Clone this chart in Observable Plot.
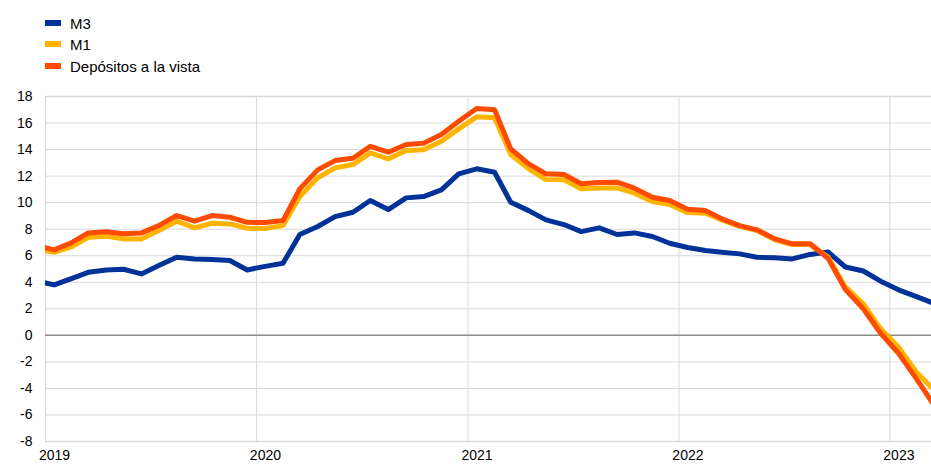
<!DOCTYPE html>
<html><head><meta charset="utf-8">
<script src="https://cdn.jsdelivr.net/npm/d3@7"></script>
<script src="https://cdn.jsdelivr.net/npm/@observablehq/plot@0.6"></script>
<style>
body{margin:0;background:#fff;font-family:Arial,"Liberation Sans",sans-serif;}
#legend{position:relative;height:80px;width:931px;}
.item{position:absolute;left:45px;height:20px;display:flex;align-items:center;font-size:15px;color:#000;white-space:nowrap;}
.sw{width:16px;height:6px;margin-right:9px;}
#chart svg{display:block;}
</style></head><body>
<div id="legend"></div><div id="chart"></div>
<script>
const months = ["2018-12",
"2019-01","2019-02","2019-03","2019-04","2019-05","2019-06","2019-07","2019-08","2019-09","2019-10","2019-11","2019-12",
"2020-01","2020-02","2020-03","2020-04","2020-05","2020-06","2020-07","2020-08","2020-09","2020-10","2020-11","2020-12",
"2021-01","2021-02","2021-03","2021-04","2021-05","2021-06","2021-07","2021-08","2021-09","2021-10","2021-11","2021-12",
"2022-01","2022-02","2022-03","2022-04","2022-05","2022-06","2022-07","2022-08","2022-09","2022-10","2022-11","2022-12",
"2023-01","2023-02","2023-03"];
const m3 = [4.1,
3.8,4.3,4.75,4.93,4.98,4.63,5.26,5.89,5.76,5.71,5.64,4.93,
5.2,5.43,7.6,8.2,8.95,9.28,10.16,9.48,10.36,10.46,10.96,12.17,
12.55,12.29,10.03,9.4,8.7,8.35,7.82,8.1,7.6,7.72,7.45,6.94,
6.62,6.39,6.26,6.14,5.89,5.84,5.76,6.1,6.28,5.15,4.85,4.08,
3.43,2.92,2.45];
const m1 = [6.5,
6.26,6.69,7.39,7.47,7.27,7.27,7.9,8.6,8.1,8.45,8.4,8.07,
8.05,8.27,10.46,11.87,12.62,12.87,13.75,13.3,13.93,13.98,14.63,15.56,
16.47,16.4,13.62,12.55,11.74,11.72,11.04,11.11,11.11,10.71,10.08,9.86,
9.25,9.2,8.7,8.22,7.9,7.2,6.84,6.84,5.9,3.65,2.37,0.49,
-0.9,-2.78,-4.0];
const depositos = [6.77,
6.44,7.0,7.72,7.8,7.65,7.72,8.27,9.03,8.6,9.03,8.9,8.52,
8.5,8.65,11.04,12.47,13.17,13.35,14.25,13.8,14.38,14.48,15.13,16.13,
17.1,17.0,14.05,12.92,12.17,12.12,11.42,11.51,11.54,11.09,10.41,10.16,
9.5,9.4,8.78,8.27,7.95,7.27,6.9,6.9,5.8,3.45,2.0,0.16,
-1.35,-3.28,-5.1];
const seriesNames = ["M3","M1","Depósitos a la vista"];
const seriesColors = ["#003299","#FFB400","#FF4B00"];
const yTicks = [-8,-6,-4,-2,0,2,4,6,8,10,12,14,16,18];
const xTickYears = [2019,2020,2021,2022,2023];

// legend
const legend = document.getElementById("legend");
const tops = [13,34,56];
seriesNames.forEach((n,k)=>{
  const d = document.createElement("div");
  d.className = "item";
  d.style.top = tops[k] + "px";
  const sw = document.createElement("span");
  sw.className = "sw";
  sw.style.background = seriesColors[k];
  d.appendChild(sw);
  d.appendChild(document.createTextNode(n));
  legend.appendChild(d);
});

const parse = d3.utcParse("%Y-%m");
const mid = m => d3.utcDay.offset(parse(m), 15);
const values = [m3, m1, depositos];
const rows = [];
seriesNames.forEach((s,k)=>{
  months.forEach((m,i)=>rows.push({date: mid(m), value: values[k][i], series: s}));
});
const xTicks = xTickYears.map(y => new Date(Date.UTC(y,0,1)));

const chart = Plot.plot({
  width: 931,
  height: 385,
  marginLeft: 45,
  marginRight: 0,
  marginTop: 16,
  marginBottom: 24,
  style: {fontFamily: 'Arial, "Liberation Sans", sans-serif', fontSize: "14px", color: "#000", background: "#fff"},
  x: {type: "utc", domain: [new Date(Date.UTC(2019,0,1)), new Date(Date.UTC(2023,2,14))]},
  y: {domain: [-8, 18]},
  color: {domain: seriesNames, range: seriesColors},
  marks: [
    Plot.gridX(xTicks, {stroke: "#d9d9d9", strokeOpacity: 1, strokeWidth: 1}),
    Plot.gridY(yTicks, {stroke: "#d9d9d9", strokeOpacity: 1, strokeWidth: 1}),
    Plot.ruleY([18, -8], {stroke: "#d9d9d9", strokeWidth: 1.5}),
    Plot.ruleY([0], {stroke: "#8c8c8c", strokeWidth: 1.5}),
    Plot.axisY(yTicks, {tickSize: 0, tickPadding: 13, fontSize: 14, label: null, tickFormat: d => String(d)}),
    Plot.axisX(xTicks, {tickSize: 0, tickPadding: 9, dx: 9, fontSize: 14, tickFormat: d3.utcFormat("%Y"), label: null}),
    Plot.line(rows, {x: "date", y: "value", z: "series", stroke: "series", strokeWidth: 5, strokeLinejoin: "round", clip: true})
  ]
});
document.getElementById("chart").appendChild(chart);
</script>
</body></html>
